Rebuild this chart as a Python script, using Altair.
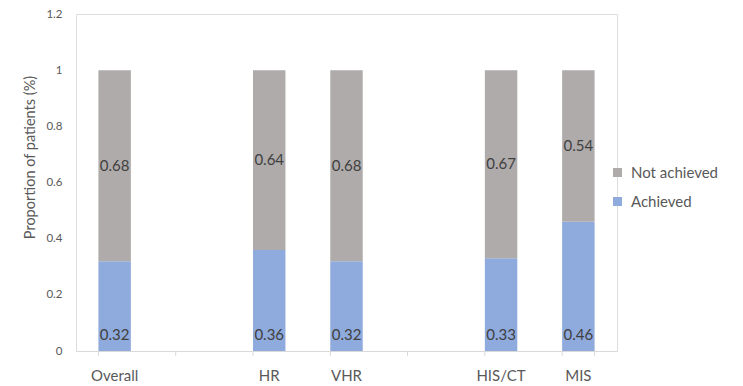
import altair as alt
import pandas as pd

categories = ["Overall", " ", "HR", "VHR", "  ", "HIS/CT", "MIS"]
groups = ["Overall", "HR", "VHR", "HIS/CT", "MIS"]
achieved = [0.32, 0.36, 0.32, 0.33, 0.46]
not_achieved = [0.68, 0.64, 0.68, 0.67, 0.54]
statuses = ["Not achieved", "Achieved"]
colors = ["#afabab", "#8faadc"]
y_ticks = [0, 0.2, 0.4, 0.6, 0.8, 1, 1.2]

rows = []
for g, a, n in zip(groups, achieved, not_achieved):
    rows.append({"cat": g, "status": "Achieved", "value": a, "ord": 0, "base": a})
    rows.append({"cat": g, "status": "Not achieved", "value": n, "ord": 1, "base": a})
df = pd.DataFrame(rows)
cat_df = pd.DataFrame({"cat": categories})

FONT = "Lato"
xscale = alt.Scale(domain=categories, paddingInner=0.58, paddingOuter=0.29)
yscale = alt.Scale(domain=[0, 1.2], nice=False)

bars = alt.Chart(df).mark_bar().encode(
    x=alt.X("cat:N", scale=xscale, sort=categories, title=None,
            axis=alt.Axis(labelAngle=0, labelFontSize=15, labelColor="#595959",
                          labelFont=FONT, ticks=False, labelPadding=17,
                          domainColor="#d9d9d9", domainWidth=1)),
    y=alt.Y("value:Q", stack="zero", scale=yscale,
            title="Proportion of patients (%)",
            axis=alt.Axis(values=y_ticks, format="~g", grid=False, domain=False,
                          ticks=False, labelFontSize=11.5, labelColor="#595959",
                          labelFont=FONT, labelPadding=14, titleFont=FONT,
                          titleFontSize=14.5, titleFontWeight="normal",
                          titleColor="#595959", titlePadding=8, titleY=143)),
    color=alt.Color("status:N", scale=alt.Scale(domain=statuses, range=colors),
                    title=None,
                    legend=alt.Legend(orient="none", legendX=534, legendY=151,
                                      symbolType="square", symbolSize=81,
                                      symbolStrokeWidth=0, labelFontSize=15,
                                      labelFont=FONT, labelColor="#595959",
                                      rowPadding=13, padding=0, labelOffset=6)),
    order=alt.Order("ord:Q"),
)

lab_ach = alt.Chart(df).transform_filter("datum.status == 'Achieved'").transform_calculate(
    zero="0"
).mark_text(font=FONT, fontSize=15, color="#404040", dy=-16, baseline="middle").encode(
    x=alt.X("cat:N", scale=xscale, sort=categories),
    y=alt.Y("zero:Q", scale=yscale),
    text=alt.Text("value:Q", format=".2f"),
)

lab_not = alt.Chart(df).transform_filter("datum.status == 'Not achieved'").transform_calculate(
    mid="datum.base + datum.value / 2"
).mark_text(font=FONT, fontSize=15, color="#404040", baseline="middle").encode(
    x=alt.X("cat:N", scale=xscale, sort=categories),
    y=alt.Y("mid:Q", scale=yscale),
    text=alt.Text("value:Q", format=".2f"),
)

ticks_start = alt.Chart(cat_df).mark_rule(color="#d9d9d9", strokeWidth=1).encode(
    x=alt.X("cat:N", scale=xscale, sort=categories, bandPosition=0),
    y=alt.value(337), y2=alt.value(342),
)
ticks_end = alt.Chart(cat_df).transform_filter("datum.cat == 'MIS'").mark_rule(
    color="#d9d9d9", strokeWidth=1).encode(
    x=alt.X("cat:N", scale=xscale, sort=categories, bandPosition=1),
    y=alt.value(337), y2=alt.value(342),
)

chart = alt.layer(bars, lab_ach, lab_not, ticks_start, ticks_end).properties(
    width=541, height=337,
    autosize=alt.AutoSizeParams(type="none"),
    padding={"left": 68, "top": 6, "right": 118, "bottom": 35},
).configure_view(stroke=None).configure(background="white")

chart.save("out.html", embed_options={"renderer": "svg", "actions": False})
